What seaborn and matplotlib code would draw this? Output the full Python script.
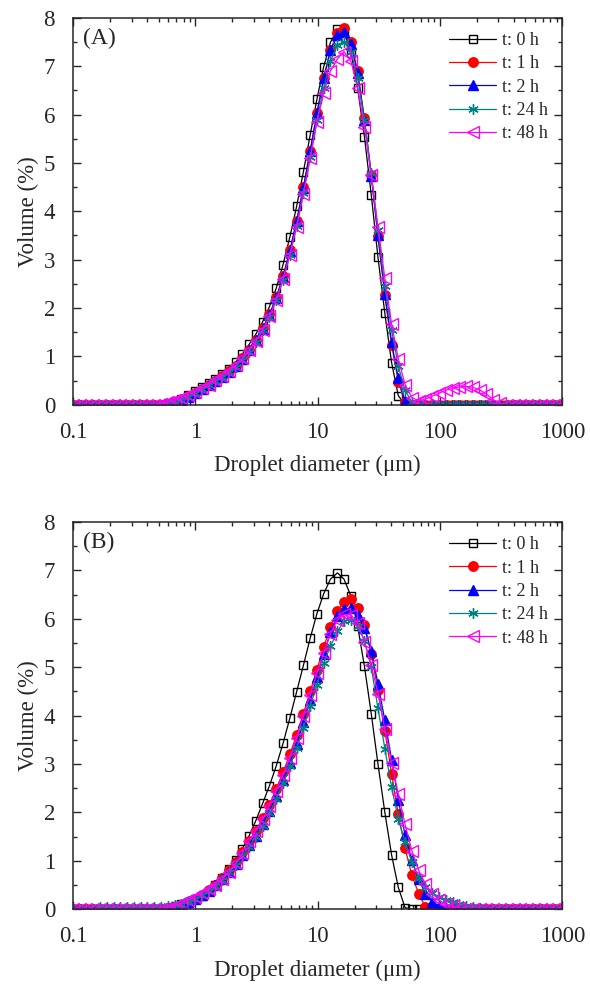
import matplotlib
matplotlib.use("Agg")
import matplotlib.pyplot as plt
from matplotlib.ticker import AutoMinorLocator, FixedLocator, LogLocator, NullFormatter
import seaborn as sns

# size classes (um)
sizes = [0.0995, 0.113, 0.128, 0.146, 0.166, 0.188, 0.214, 0.243, 0.276, 0.314,
         0.357, 0.405, 0.460, 0.523, 0.594, 0.675, 0.767, 0.872, 0.991, 1.13,
         1.28, 1.45, 1.65, 1.88, 2.13, 2.42, 2.75, 3.12, 3.55, 4.03,
         4.58, 5.21, 5.92, 6.72, 7.64, 8.68, 9.86, 11.2, 12.7, 14.5,
         16.4, 18.7, 21.2, 24.1, 27.4, 31.1, 35.4, 40.2, 45.6, 51.8,
         58.9, 66.9, 76.0, 86.4, 98.1, 111, 127, 144, 163, 186,
         211, 240, 272, 310, 352, 400, 454, 516, 586, 666,
         756, 859, 976]

labels = ["t: 0 h", "t: 1 h", "t: 2 h", "t: 24 h", "t: 48 h"]

# panel A
a_t0 = [0, 0, 0, 0, 0, 0, 0, 0, 0, 0,
        0, 0, 0, 0, 0.03, 0.07, 0.13, 0.20, 0.28, 0.36,
        0.45, 0.54, 0.64, 0.75, 0.88, 1.05, 1.25, 1.46, 1.72, 2.03,
        2.41, 2.90, 3.47, 4.10, 4.82, 5.58, 6.32, 6.99, 7.49, 7.76,
        7.70, 7.28, 6.55, 5.54, 4.34, 3.05, 1.89, 0.87, 0.19, 0,
        0, 0, 0, 0, 0, 0, 0, 0, 0, 0,
        0, 0, 0, 0, 0, 0, 0, 0, 0, 0,
        0, 0, 0]
a_t1 = [0, 0, 0, 0, 0, 0, 0, 0, 0, 0,
        0, 0, 0, 0, 0.02, 0.06, 0.11, 0.18, 0.25, 0.33,
        0.41, 0.50, 0.59, 0.69, 0.81, 0.96, 1.14, 1.34, 1.58, 1.87,
        2.22, 2.66, 3.19, 3.80, 4.50, 5.25, 6.03, 6.75, 7.33, 7.68,
        7.78, 7.50, 6.89, 5.92, 4.75, 3.48, 2.26, 1.24, 0.48, 0.05,
        0, 0, 0, 0, 0, 0, 0, 0, 0, 0,
        0, 0, 0, 0, 0, 0, 0, 0, 0, 0,
        0, 0, 0]
a_t2 = [0, 0, 0, 0, 0, 0, 0, 0, 0, 0,
        0, 0, 0, 0, 0.02, 0.06, 0.11, 0.17, 0.24, 0.32,
        0.40, 0.49, 0.58, 0.68, 0.80, 0.95, 1.13, 1.33, 1.57, 1.86,
        2.21, 2.65, 3.18, 3.79, 4.49, 5.25, 6.03, 6.75, 7.33, 7.65,
        7.71, 7.46, 6.85, 5.88, 4.73, 3.51, 2.29, 1.29, 0.55, 0.08,
        0, 0, 0, 0, 0, 0, 0, 0, 0, 0,
        0, 0, 0, 0, 0, 0, 0, 0, 0, 0,
        0, 0, 0]
a_t24 = [0, 0, 0, 0, 0, 0, 0, 0, 0, 0,
         0, 0, 0, 0, 0.02, 0.06, 0.11, 0.17, 0.24, 0.32,
         0.40, 0.49, 0.58, 0.68, 0.79, 0.93, 1.10, 1.30, 1.54, 1.82,
         2.16, 2.59, 3.10, 3.70, 4.38, 5.12, 5.88, 6.55, 7.10, 7.44,
         7.50, 7.30, 6.75, 5.88, 4.80, 3.62, 2.45, 1.55, 0.80, 0.30,
         0.06, 0.02, 0, 0, 0, 0, 0, 0, 0, 0,
         0, 0, 0, 0, 0, 0, 0, 0, 0, 0,
         0, 0, 0]
a_t48 = [0, 0, 0, 0, 0, 0, 0, 0, 0, 0,
         0, 0, 0, 0.02, 0.05, 0.09, 0.14, 0.20, 0.27, 0.34,
         0.42, 0.51, 0.60, 0.70, 0.82, 0.96, 1.13, 1.32, 1.55, 1.83,
         2.17, 2.60, 3.10, 3.68, 4.35, 5.10, 5.85, 6.45, 6.90, 7.15,
         7.30, 7.10, 6.54, 5.75, 4.75, 3.68, 2.62, 1.67, 0.95, 0.42,
         0.15, 0.08, 0.12, 0.18, 0.24, 0.30, 0.34, 0.37, 0.38, 0.36,
         0.31, 0.22, 0.11, 0.03, 0, 0, 0, 0, 0, 0,
         0, 0, 0]

# panel B
b_t0 = [0, 0, 0, 0, 0, 0, 0, 0, 0, 0,
        0, 0, 0, 0.01, 0.03, 0.06, 0.10, 0.15, 0.21, 0.28,
        0.37, 0.49, 0.64, 0.83, 1.02, 1.25, 1.52, 1.83, 2.19, 2.55,
        2.96, 3.43, 3.95, 4.49, 5.04, 5.60, 6.11, 6.52, 6.82, 6.95,
        6.82, 6.47, 5.85, 5.02, 4.04, 3.00, 2.00, 1.12, 0.45, 0.03,
        0, 0, 0, 0, 0, 0, 0, 0, 0, 0,
        0, 0, 0, 0, 0, 0, 0, 0, 0, 0,
        0, 0, 0]
b_t1 = [0, 0, 0, 0, 0, 0, 0, 0, 0, 0,
        0, 0, 0, 0.01, 0.02, 0.05, 0.09, 0.15, 0.22, 0.30,
        0.39, 0.50, 0.64, 0.80, 0.98, 1.18, 1.40, 1.62, 1.88, 2.16,
        2.49, 2.83, 3.20, 3.60, 4.04, 4.50, 4.95, 5.42, 5.83, 6.16,
        6.34, 6.40, 6.22, 5.88, 5.27, 4.53, 3.68, 2.80, 1.96, 1.26,
        0.70, 0.32, 0.05, 0, 0, 0, 0, 0, 0, 0,
        0, 0, 0, 0, 0, 0, 0, 0, 0, 0,
        0, 0, 0]
b_t2 = [0, 0, 0, 0, 0, 0, 0, 0, 0, 0,
        0, 0, 0, 0.01, 0.02, 0.05, 0.09, 0.14, 0.21, 0.29,
        0.38, 0.49, 0.62, 0.77, 0.93, 1.12, 1.32, 1.52, 1.76, 2.03,
        2.33, 2.66, 3.02, 3.42, 3.86, 4.33, 4.80, 5.28, 5.72, 6.05,
        6.20, 6.23, 6.08, 5.81, 5.34, 4.66, 3.90, 3.09, 2.26, 1.53,
        1.01, 0.62, 0.32, 0.15, 0.07, 0.03, 0.01, 0, 0, 0,
        0, 0, 0, 0, 0, 0, 0, 0, 0, 0,
        0, 0, 0]
b_t24 = [0, 0, 0, 0, 0.04, 0.04, 0.04, 0.04, 0.04, 0.04,
         0.04, 0.04, 0.04, 0.05, 0.06, 0.08, 0.11, 0.16, 0.22, 0.29,
         0.38, 0.48, 0.61, 0.76, 0.92, 1.10, 1.29, 1.49, 1.72, 1.98,
         2.28, 2.60, 2.95, 3.33, 3.74, 4.19, 4.64, 5.09, 5.43, 5.74,
         5.95, 5.98, 5.85, 5.55, 5.00, 4.15, 3.32, 2.52, 1.87, 1.38,
         0.97, 0.65, 0.45, 0.33, 0.25, 0.19, 0.14, 0.10, 0.07, 0.04,
         0.02, 0, 0, 0, 0, 0, 0, 0, 0, 0,
         0, 0, 0]
b_t48 = [0, 0, 0, 0, 0, 0, 0, 0, 0, 0,
         0, 0, 0, 0.01, 0.02, 0.06, 0.12, 0.19, 0.26, 0.33,
         0.41, 0.50, 0.62, 0.76, 0.95, 1.16, 1.40, 1.62, 1.86, 2.14,
         2.45, 2.78, 3.12, 3.54, 4.00, 4.43, 4.88, 5.29, 5.69, 5.98,
         6.09, 6.08, 5.91, 5.53, 5.05, 4.45, 3.72, 3.03, 2.38, 1.75,
         1.21, 0.80, 0.52, 0.32, 0.19, 0.10, 0.06, 0.03, 0.01, 0,
         0, 0, 0, 0, 0, 0, 0, 0, 0, 0,
         0, 0, 0]

# marker styles per series
styles = [
    dict(color="black", marker="s", markersize=6, markerfacecolor="none", markeredgecolor="black"),
    dict(color="red", marker="o", markersize=6.8, markerfacecolor="red", markeredgecolor="red"),
    dict(color="blue", marker="^", markersize=7.2, markerfacecolor="blue", markeredgecolor="blue"),
    dict(color="#008080", marker=(6, 2, 0), markersize=7.5, markerfacecolor="none", markeredgecolor="#008080"),
    dict(color="#ff00ff", marker="<", markersize=8.2, markerfacecolor="none", markeredgecolor="#ff00ff"),
]

sns.set_style("ticks")
plt.rcParams["font.family"] = ["Liberation Serif", "DejaVu Serif"]

fig = plt.figure(figsize=(5.9, 9.85), dpi=100)
ax_a = fig.add_axes([0.124, 0.589, 0.829, 0.393])
ax_b = fig.add_axes([0.124, 0.077, 0.829, 0.393])

panels = [(ax_a, "(A)", [a_t0, a_t1, a_t2, a_t24, a_t48]),
          (ax_b, "(B)", [b_t0, b_t1, b_t2, b_t24, b_t48])]

for ax, tag, series in panels:
    for lab, ys, st in zip(labels, series, styles):
        sns.lineplot(x=sizes, y=ys, ax=ax, label=lab, linewidth=0.9,
                     markeredgewidth=1.0, estimator=None, sort=False, **st)
    ax.set_xscale("log")
    ax.set_xlim(0.1, 1000)
    ax.set_ylim(0, 8)
    ax.xaxis.set_major_locator(FixedLocator([0.1, 1, 10, 100, 1000]))
    ax.set_xticklabels(["0.1", "1", "10", "100", "1000"])
    ax.xaxis.set_minor_locator(LogLocator(base=10, subs=range(2, 10)))
    ax.xaxis.set_minor_formatter(NullFormatter())
    ax.set_yticks(range(0, 9))
    ax.yaxis.set_minor_locator(AutoMinorLocator(2))
    ax.tick_params(which="both", direction="in", top=True, right=True, width=1.0, labelsize=16.5)
    ax.tick_params(which="major", length=6)
    ax.tick_params(which="minor", length=3)
    ax.tick_params(axis="x", pad=12)
    ax.tick_params(axis="y", pad=13)
    for sp in ax.spines.values():
        sp.set_linewidth(1.1)
    ax.set_xlabel("Droplet diameter (μm)", fontsize=16.5, labelpad=9)
    ax.set_ylabel("Volume (%)", fontsize=16.5, labelpad=3)
    ax.text(0.02, 0.975, tag, transform=ax.transAxes, fontsize=17, va="top", ha="left")
    ax.legend(loc="upper right", frameon=False, fontsize=13, handlelength=2.6,
              handletextpad=0.3, labelspacing=0.35, borderaxespad=0.4)

fig.savefig("out.png", dpi=100)
